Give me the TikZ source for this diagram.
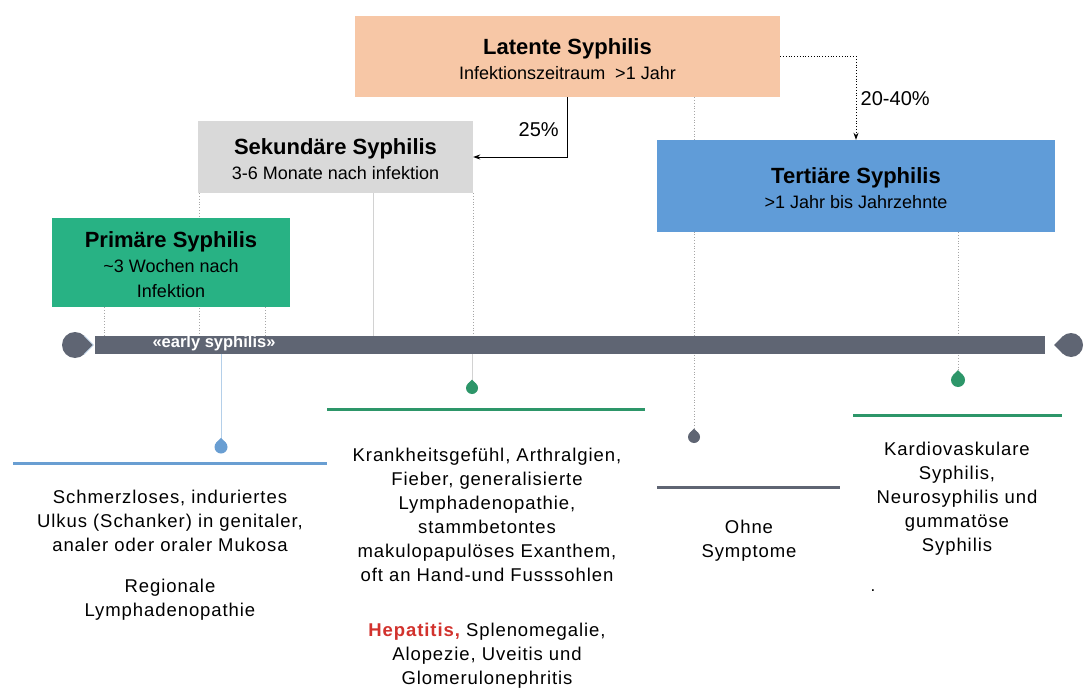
\documentclass[tikz,border=0pt]{standalone}
\usepackage{fontspec}
\setmainfont{Liberation Sans}
\newfontfamily\widefont[LetterSpace=5]{Liberation Sans}
\usetikzlibrary{positioning,arrows.meta,backgrounds}

\definecolor{latc}{RGB}{247,199,166}
\definecolor{sekc}{RGB}{217,217,217}
\definecolor{primc}{RGB}{40,178,132}
\definecolor{tertc}{RGB}{96,156,216}
\definecolor{barc}{RGB}{95,101,115}
\definecolor{grnc}{RGB}{45,150,105}
\definecolor{bluc}{RGB}{105,158,210}
\definecolor{hepred}{RGB}{210,50,45}

% drop: center, radius, tip angle, colour
\newcommand{\tdrop}[4]{%
  \fill[#4] (#1) circle (#2);
  \fill[#4] (#1) -- +(#3-45:#2) -- +(#3:{1.4142*#2}) -- +(#3+45:#2) -- cycle;}
\newcommand{\stitle}[1]{{\bfseries\fontsize{22}{25}\selectfont\rule{0pt}{21pt}#1}}

\begin{document}
\begin{tikzpicture}[
  x=1pt, y=-1pt,
  font=\fontsize{17}{24}\selectfont,
  stage/.style={align=center, inner sep=0pt, font=\fontsize{18}{25}\selectfont},
  body/.style={align=center, inner sep=0pt, anchor=north, font=\widefont\fontsize{18.5}{24}\selectfont},
  lbl/.style={font=\fontsize{20}{24}\selectfont},
  arr/.style={-{Stealth[length=7pt,width=5pt]}, thick},
  dotl/.style={gray!70, dotted, line width=0.8pt},
  thinl/.style={gray!35, line width=1pt},
  hline/.style={line width=3pt}
]

% stages
\node[stage, fill=latc, minimum width=425pt, minimum height=81pt] (lat) at (567.5,56.5)
  {\stitle{Latente Syphilis}\\Infektionszeitraum \ >1 Jahr};
\node[stage, fill=sekc, minimum width=275pt, minimum height=72pt] (sek) at (335.5,157)
  {\stitle{Sekundäre Syphilis}\\3-6 Monate nach infektion};
\node[stage, fill=primc, minimum width=238pt, minimum height=89pt] (prim) at (171,262.5)
  {\stitle{Primäre Syphilis}\\\textasciitilde3 Wochen nach\\Infektion};
\node[stage, fill=tertc, minimum width=398pt, minimum height=92pt] (tert) at (856,186)
  {\stitle{Tertiäre Syphilis}\\>1 Jahr bis Jahrzehnte};

% timeline
\node[fill=barc, minimum width=950pt, minimum height=18pt, inner sep=0pt] (bar) at (570,345) {};
\node[text=white, font=\fontsize{16.5}{18}\selectfont\bfseries] (early) at (214,343) {«early syphilis»};
\tdrop{75,345}{13}{0}{barc}
\draw[bluc!40, line width=0.8pt] (75,345) +(-45:13) -- +(0:18.4) -- +(45:13);
\tdrop{1071,345}{12}{180}{barc}

% ticks and drops
\coordinate (t1) at (104,336);
\coordinate (t2) at (199,336);
\coordinate (t3) at (265,336);
\coordinate (t4) at (373,336);
\coordinate (t5) at (473,336);
\coordinate (dB) at (221,447);
\coordinate (dG) at (472,388);
\coordinate (dK) at (694,437);
\coordinate (dT) at (958,380);

\begin{pgfonlayer}{background}
\fill[white] (0,0) rectangle (1090,684);
\draw[dotl] (prim.south -| t1) -- (t1);
\draw[dotl] (sek.south -| t2) -- (t2);
\draw[dotl] (prim.south -| t3) -- (t3);
\draw[thinl] (sek.south -| t4) -- (t4);
\draw[dotl] (sek.south -| t5) -- (t5);
\draw[dotl] (lat.south -| dK) -- (dK);
\draw[dotl] (tert.south -| dT) -- (dT);
\draw[bluc!50, line width=1pt] (bar.south -| dB) -- (dB);
\draw[thinl] (bar.south -| dG) -- (dG);
\end{pgfonlayer}

\tdrop{dB}{6.5}{-90}{bluc}
\tdrop{dG}{6}{-90}{grnc}
\tdrop{dK}{6}{-90}{barc}
\tdrop{dT}{7}{-90}{grnc}

% transitions
\draw[arr] (lat.south) |- (sek.east) node[pos=0.27, left=5pt, lbl] (p25) {25\%};
\draw[arr, dotted] (lat.east) -| (tert.north) node[pos=0.75, right=1pt, lbl] (p2040) {20-40\%};

% symptoms
\draw[hline, bluc] (13,463) -- (327,463);
\draw[hline, grnc] (327,409) -- (645,409);
\draw[hline, barc] (657,487) -- (840,487);
\draw[hline, grnc] (853,415) -- (1062,415);

\node[body] (symP) at (170,489.5) {Schmerzloses, induriertes\\Ulkus (Schanker) in genitaler,\\analer oder oraler Mukosa\\[17pt]Regionale\\Lymphadenopathie};
\node[body] (symS) at (487,448) {Krankheitsgefühl, Arthralgien,\\Fieber, generalisierte\\Lymphadenopathie,\\stammbetontes\\makulopapulöses Exanthem,\\oft an Hand-und Fusssohlen\\[31pt]\textcolor{hepred}{\bfseries Hepatitis,} Splenomegalie,\\Alopezie, Uveitis und\\Glomerulonephritis};
\node[body] (symL) at (749,520) {Ohne\\Symptome};
\node[body] (symT) at (957,441.5) {Kardiovaskulare\\Syphilis,\\Neurosyphilis und\\gummatöse\\Syphilis};
\node[inner sep=0pt] (dot) at (873,591) {.};

\end{tikzpicture}
\end{document}
